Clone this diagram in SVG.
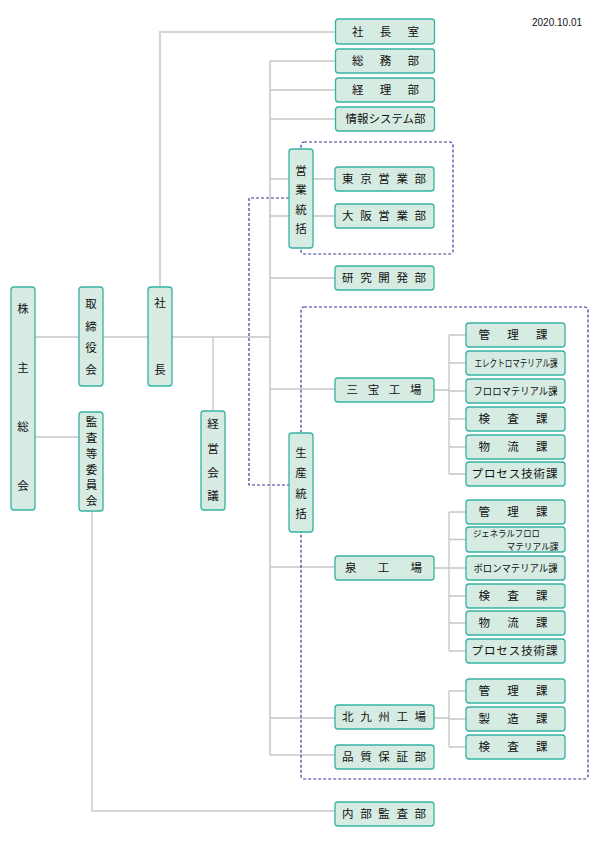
<svg xmlns="http://www.w3.org/2000/svg" width="595" height="842" viewBox="0 0 595 842">
<style>
.bx{fill:#d6ebe2;stroke:#36b2a2;stroke-width:1.3}
.t{font-family:"Noto Sans CJK JP","Noto Sans CJK SC",sans-serif;font-size:11.5px;fill:#111;text-anchor:middle}
.s{font-family:"Noto Sans CJK JP","Noto Sans CJK SC",sans-serif;font-size:10px;fill:#111;text-anchor:middle}
.ln{stroke:#c6c6c6;stroke-width:1.3;fill:none}
.tk{stroke:#d6d6d6;stroke-width:2.2;fill:none}
.dash{stroke:#3a3a96;stroke-width:1.2;stroke-dasharray:3 2;fill:none}
</style>
<rect width="595" height="842" fill="#fff"/>
<text x="532" y="25.5" style="font-family:'Liberation Sans',Arial,sans-serif;font-size:10px;fill:#111">2020.10.01</text>
<g id="connectors">
<path class="tk" d="M160,287 V32 H335"/>
<path class="tk" d="M270,61 V755"/>
<path class="ln" d="M270,61 H335 M270,90 H335 M270,119 H335 M270,179 H289 M270,216 H289 M313,179 H335 M313,216 H335 M270,278 H335 M270,389 H335 M270,567 H335 M270,718 H335 M270,755 H335"/>
<path class="ln" d="M35,337 H79 M103,337 H148 M172,337 H270 M213,337 V411 M35,437 H79"/>
<path class="ln" d="M92,511 V811 H335"/>
<path class="ln" d="M434,390 H449 M449,335 V474 M449,335 H466 M449,363 H466 M449,391 H466 M449,419 H466 M449,447 H466 M449,474 H466"/>
<path class="ln" d="M434,568 H449 M449,512 V651 M449,512 H466 M449,539.5 H466 M449,568 H466 M449,596 H466 M449,623 H466 M449,651 H466"/>
<path class="ln" d="M434,718 H449 M449,691 V747 M449,691 H466 M449,719 H466 M449,747 H466"/>
<path class="dash" d="M289,198 H249 V485 H289"/>
<rect class="dash" x="301" y="142" width="152" height="112" rx="3"/>
<rect class="dash" x="301" y="307" width="287" height="472" rx="3"/>
</g>
<g id="kabunushi"><rect class="bx" x="11" y="287" width="24" height="223" rx="3"/>
<text class="t" x="23" y="313">株</text><text class="t" x="23" y="372">主</text><text class="t" x="23" y="431">総</text><text class="t" x="23" y="490">会</text></g>
<g id="torishimari"><rect class="bx" x="79" y="287" width="24" height="99" rx="3"/>
<text class="t" x="91" y="308">取</text><text class="t" x="91" y="330.5">締</text><text class="t" x="91" y="352">役</text><text class="t" x="91" y="374">会</text></g>
<g id="kansa-iin"><rect class="bx" x="79" y="412" width="24" height="99" rx="3"/>
<text class="t" x="91.5" y="426">監</text><text class="t" x="91.5" y="442">査</text><text class="t" x="91.5" y="458">等</text><text class="t" x="91.5" y="473.5">委</text><text class="t" x="91.5" y="489">員</text><text class="t" x="91.5" y="505">会</text></g>
<g id="shacho"><rect class="bx" x="148" y="287" width="24" height="99" rx="3"/>
<text class="t" x="160" y="307">社</text><text class="t" x="160" y="374">長</text></g>
<g id="keiei-kaigi"><rect class="bx" x="201" y="411" width="24" height="99" rx="3"/>
<text class="t" x="213" y="428">経</text><text class="t" x="213" y="453">営</text><text class="t" x="213" y="476.5">会</text><text class="t" x="213" y="500">議</text></g>
<g id="eigyo-tokatsu"><rect class="bx" x="289" y="149" width="24" height="99" rx="3"/>
<text class="t" x="301" y="175">営</text><text class="t" x="301" y="194">業</text><text class="t" x="301" y="214">統</text><text class="t" x="301" y="232.5">括</text></g>
<g id="seisan-tokatsu"><rect class="bx" x="289" y="433" width="24" height="99" rx="3"/>
<text class="t" x="301" y="457">生</text><text class="t" x="301" y="477">産</text><text class="t" x="301" y="497.5">統</text><text class="t" x="301" y="517.5">括</text></g>
<g id="shachoshitsu"><rect class="bx" x="335.5" y="19" width="99" height="25" rx="3"/><text class="t" x="385.5" y="35.5" textLength="67">社長室</text></g>
<g id="somu"><rect class="bx" x="335.5" y="49" width="99" height="24" rx="3"/><text class="t" x="385.5" y="65" textLength="67">総務部</text></g>
<g id="keiri"><rect class="bx" x="335.5" y="78" width="99" height="24" rx="3"/><text class="t" x="385.5" y="94" textLength="67">経理部</text></g>
<g id="joho"><rect class="bx" x="335.5" y="107" width="99" height="24" rx="3"/><text class="t" x="385.5" y="123" textLength="80">情報システム部</text></g>
<g id="tokyo"><rect class="bx" x="335" y="167" width="99" height="24" rx="3"/><text class="t" x="384" y="183" textLength="84">東京営業部</text></g>
<g id="osaka"><rect class="bx" x="335" y="204" width="99" height="24" rx="3"/><text class="t" x="384" y="220" textLength="84">大阪営業部</text></g>
<g id="kenkyu"><rect class="bx" x="335" y="266" width="99" height="24" rx="3"/><text class="t" x="384" y="282" textLength="84">研究開発部</text></g>
<g id="sanpo"><rect class="bx" x="335" y="378" width="99" height="24" rx="3"/><text class="t" x="384" y="394" textLength="75">三宝工場</text></g>
<g id="izumi"><rect class="bx" x="335" y="556" width="99" height="24" rx="3"/><text class="t" x="383.5" y="572" textLength="77">泉工場</text></g>
<g id="kitakyushu"><rect class="bx" x="335" y="705" width="99" height="24" rx="3"/><text class="t" x="384" y="721" textLength="84">北九州工場</text></g>
<g id="hinshitsu"><rect class="bx" x="335" y="745" width="99" height="24" rx="3"/><text class="t" x="384" y="761" textLength="84">品質保証部</text></g>
<g id="naibu"><rect class="bx" x="335" y="802" width="99" height="24" rx="3"/><text class="t" x="384" y="818" textLength="84">内部監査部</text></g>
<g id="s-kanri"><rect class="bx" x="466" y="323" width="99" height="24" rx="3"/><text class="t" x="513" y="339" textLength="69">管理課</text></g>
<g id="s-electro"><rect class="bx" x="466" y="351" width="99" height="24" rx="3"/><text class="s" x="516" y="366.5" textLength="83" lengthAdjust="spacingAndGlyphs">エレクトロマテリアル課</text></g>
<g id="s-fluoro"><rect class="bx" x="466" y="379" width="99" height="24" rx="3"/><text class="s" x="515.5" y="394.5" textLength="84" lengthAdjust="spacingAndGlyphs">フロロマテリアル課</text></g>
<g id="s-kensa"><rect class="bx" x="466" y="407" width="99" height="24" rx="3"/><text class="t" x="513" y="423" textLength="69">検査課</text></g>
<g id="s-butsuryu"><rect class="bx" x="466" y="435" width="99" height="24" rx="3"/><text class="t" x="513" y="451" textLength="69">物流課</text></g>
<g id="s-process"><rect class="bx" x="466" y="462" width="99" height="24" rx="3"/><text class="t" x="514.5" y="478" textLength="86">プロセス技術課</text></g>
<g id="i-kanri"><rect class="bx" x="466" y="500" width="99" height="24" rx="3"/><text class="t" x="513" y="516" textLength="69">管理課</text></g>
<g id="i-general"><rect class="bx" x="466" y="527" width="99" height="25" rx="3"/><text class="s" style="font-size:9px"><tspan x="506.5" y="537.2" textLength="67" lengthAdjust="spacingAndGlyphs">ジェネラルフロロ</tspan><tspan x="532.5" y="550" textLength="52" lengthAdjust="spacingAndGlyphs">マテリアル課</tspan></text></g>
<g id="i-boron"><rect class="bx" x="466" y="556" width="99" height="24" rx="3"/><text class="s" x="515.5" y="571.5" textLength="84" lengthAdjust="spacingAndGlyphs">ボロンマテリアル課</text></g>
<g id="i-kensa"><rect class="bx" x="466" y="584" width="99" height="24" rx="3"/><text class="t" x="513" y="600" textLength="69">検査課</text></g>
<g id="i-butsuryu"><rect class="bx" x="466" y="611" width="99" height="24" rx="3"/><text class="t" x="513" y="627" textLength="69">物流課</text></g>
<g id="i-process"><rect class="bx" x="466" y="639" width="99" height="24" rx="3"/><text class="t" x="514.5" y="655" textLength="86">プロセス技術課</text></g>
<g id="k-kanri"><rect class="bx" x="466" y="679" width="99" height="24" rx="3"/><text class="t" x="513" y="695" textLength="69">管理課</text></g>
<g id="k-seizo"><rect class="bx" x="466" y="707" width="99" height="24" rx="3"/><text class="t" x="513" y="723" textLength="69">製造課</text></g>
<g id="k-kensa"><rect class="bx" x="466" y="735" width="99" height="24" rx="3"/><text class="t" x="513" y="751" textLength="69">検査課</text></g>
</svg>
